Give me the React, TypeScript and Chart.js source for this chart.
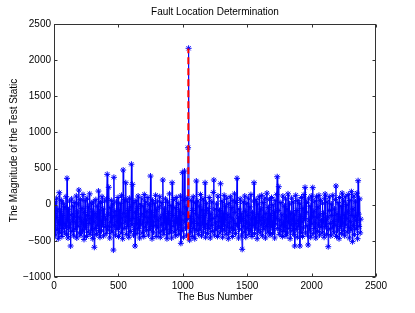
import React, { useEffect, useRef } from 'react';
import { Chart, registerables } from 'chart.js';

Chart.register(...registerables);

const TITLE = 'Fault Location Determination';
const X_LABEL = 'The Bus Number';
const Y_LABEL = 'The Magnitude of the Test Static';

// bus numbers sampled every BUS_STEP buses, starting at FIRST_BUS
const FIRST_BUS = 1;
const BUS_STEP = 4;

const testStatic = [
  -120, -310, 40, -420, -180, 90, -350, -60, -470, -240, 166, -390, -90, -280, 60, -440, -150, -330, 20, -260,
  -380, -30, -290, 110, -410, 365, -200, -460, -70, -320, 50, -250, -571, -140, 80, -370, -210, -20, -430, -160,
  30, -340, -250, 120, -460, -100, -300, 10, 203, -390, -180, 70, -420, -230, -50, -360, 140, -270, -480, -110,
  60, -310, -200, -440, 90, -150, -380, -30, -260, 150, -410, -190, 20, -350, -90, -470, 40, -240, -589, -120,
  -330, 70, -410, -170, -20, -290, 189, -380, -100, -450, 30, -220, -360, 110, -270, -60, -430, -160, 50, -310,
  -200, -400, 80, 420, -350, -130, 241, -300, -460, -40, -250, 60, -380, -180, 10, -627, 379, -290, -90, -420,
  -150, 40, -340, -230, 100, -440, -70, -310, 20, -260, -390, 130, -180, -470, 480, -120, -330, 70, -240, 304,
  -410, -160, 50, -300, -80, -450, 90, -220, -370, -30, 560, -280, 282, -190, -420, 30, -340, -571, -110, 60,
  -260, -400, -50, 120, -330, -200, -460, 10, -280, -140, 80, -390, -240, -20, -440, 140, -170, -310, 40, -360,
  -90, -250, 100, -420, -180, 0, -350, 397, -300, -110, -470, 60, -230, -380, 20, -160, -290, 130, -440, -70,
  -320, 50, -210, -390, -30, 110, -450, -170, -280, 30, -360, 342, -130, -410, -60, -250, 80, -340, -190, -470,
  40, -270, -120, -400, 150, -220, -350, -10, -460, 304, -150, -300, 70, -380, -230, -40, -430, 100, -260, -180,
  -340, 20, -410, -90, -280, 120, -534, -200, -360, 443, -130, -450, 60, 466, -240, -320, -30, -420, 90, -190,
  788, 2164, -300, -490, -160, -380, 60, -250, -440, -80, 110, -330, -210, -470, 30, -140, 328, -360, -260, 50,
  -410, -180, -20, -350, 140, -290, -430, -70, -240, 80, -380, -150, -310, 304, -450, -100, 20, -270, -400, -50,
  -330, 100, -220, -460, -130, -290, 40, -370, -190, 170, 342, -420, -60, -250, -350, 10, -160, -440, 120, -300,
  -230, -80, -390, 290, -170, -330, 50, -450, -120, -270, 130, -360, -200, -20, -410, 90, -310, -140, -470, 20,
  -250, -380, 110, -180, -320, -40, -440, 60, -210, -350, 150, -110, -400, -260, 30, 365, -290, -170, -460, -60,
  -340, 80, -230, -120, -420, -617, -190, 40, -300, -380, 120, -90, -450, -240, 20, -330, -150, 90, -410, -270,
  -30, -360, 140, -200, -440, -110, -290, 50, 304, -400, -170, -320, 70, -250, -470, 10, -130, -350, 110, -220,
  -390, -60, -280, 130, -430, -180, 30, -340, -240, 90, -460, -120, -300, 160, -200, -380, -40, -270, 70, -420,
  -150, -310, 100, -230, -400, 0, -350, -100, -460, 60, -270, -190, 140, 387, -330, -80, 249, -410, -210, -360,
  30, -290, -140, -440, 120, -250, -370, -20, -310, 80, -430, -170, -60, -390, 150, -230, -330, 10, -470, -120,
  -280, 90, -360, -200, 40, -410, -130, -571, -260, 130, -340, -80, -450, 60, -220, -300, 20, -571, -160, -390,
  100, -240, -440, -50, -320, 140, -190, 240, -380, -110, 30, -290, -420, -557, 80, -210, -350, -20, -450, 120,
  -270, -160, 236, -400, -90, -330, 50, -240, -460, 110, -180, -370, -30, -280, 130, -420, -140, 60, -310, -220,
  -390, 20, -250, -120, -450, 90, 148, -300, -200, -410, 40, -170, -581, -340, 110, -80, -260, -430, 10, -150,
  -320, 130, -230, -390, -60, -290, 70, 259, -440, -130, -350, 30, -210, -470, 100, -170, -300, -20, -400, 160,
  -250, -360, 50, -140, -430, 110, -280, -190, 0, -380, -100, 140, -320, -460, 60, -230, -350, 180, -150, -511,
  -60, -290, 120, -410, -170, 40, -340, -220, 160, -470, 332, -130, -300, 80, -390, -200,
];

// fault location marker (red dashed line)
const faultBus = 1043;
const faultLineY = [-490, 2160];

const xTickValues = [0, 500, 1000, 1500, 2000, 2500];
const xTickLabels = ['0', '500', '1000', '1500', '2000', '2500'];
const yTickValues = [-1000, -500, 0, 500, 1000, 1500, 2000, 2500];
const yTickLabels = ['\u22121000', '\u2212500', '0', '500', '1000', '1500', '2000', '2500'];

const FONT = '"Liberation Sans", Arial, Helvetica, sans-serif';

const boxPlugin = {
  id: 'matlabBox',
  afterDraw(chart: any) {
    const { ctx, chartArea } = chart;
    const xs = chart.scales.x;
    const ys = chart.scales.y;
    const l = Math.round(chartArea.left) + 0.5;
    const r = Math.round(chartArea.right) - 0.5;
    const t = Math.round(chartArea.top) + 0.5;
    const b = Math.round(chartArea.bottom) - 0.5;
    ctx.save();
    ctx.strokeStyle = '#333';
    ctx.lineWidth = 1;
    ctx.strokeRect(l, t, r - l, b - t);
    const tl = 3;
    ctx.beginPath();
    xTickValues.forEach((v) => {
      const px = Math.round(xs.getPixelForValue(v)) + 0.5;
      ctx.moveTo(px, b);
      ctx.lineTo(px, b - tl);
      ctx.moveTo(px, t);
      ctx.lineTo(px, t + tl);
    });
    yTickValues.forEach((v) => {
      const py = Math.round(ys.getPixelForValue(v)) + 0.5;
      ctx.moveTo(l, py);
      ctx.lineTo(l + tl, py);
      ctx.moveTo(r, py);
      ctx.lineTo(r - tl, py);
    });
    ctx.stroke();
    // title centred over the plot area
    ctx.fillStyle = '#000';
    ctx.font = '10px ' + FONT;
    ctx.textAlign = 'center';
    ctx.textBaseline = 'middle';
    ctx.fillText(TITLE, (chartArea.left + chartArea.right) / 2, 12);
    ctx.restore();
  },
};

export default function App() {
  const canvasRef = useRef<HTMLCanvasElement | null>(null);

  useEffect(() => {
    const canvas = canvasRef.current;
    if (!canvas) return;
    const points = testStatic.map((v, i) => ({ x: FIRST_BUS + i * BUS_STEP, y: v }));
    const faultPoints = faultLineY.map((v) => ({ x: faultBus, y: v }));

    const chart = new Chart(canvas, {
      type: 'line',
      data: {
        datasets: [
          {
            label: 'fault',
            data: faultPoints,
            borderColor: 'rgb(255,0,0)',
            borderWidth: 2,
            borderDash: [7, 4],
            pointRadius: 0,
            fill: false,
          },
          {
            label: 'test static',
            data: points,
            borderColor: 'rgb(0,0,255)',
            borderWidth: 1,
            pointStyle: 'star',
            pointRadius: 3,
            pointBorderWidth: 1,
            pointBorderColor: 'rgb(0,0,255)',
            pointBackgroundColor: 'rgba(0,0,0,0)',
            fill: false,
            tension: 0,
          },
        ],
      },
      options: {
        responsive: false,
        animation: false,
        layout: { padding: { left: 0, right: 39, top: 24, bottom: 0 } },
        plugins: {
          legend: { display: false },
          tooltip: { enabled: false },
          title: { display: false },
        },
        scales: {
          x: {
            type: 'linear',
            min: 0,
            max: 2500,
            grid: { display: false, drawTicks: false },
            border: { display: false },
            afterBuildTicks: (scale: any) => {
              scale.ticks = xTickValues.map((v) => ({ value: v }));
            },
            afterFit: (scale: any) => {
              scale.height = 36;
            },
            ticks: {
              padding: 3,
              maxRotation: 0,
              color: '#000',
              font: { family: FONT, size: 10 },
              callback: (v: any) => {
                const i = xTickValues.indexOf(Number(v));
                return i >= 0 ? xTickLabels[i] : '';
              },
            },
            title: {
              display: true,
              text: X_LABEL,
              color: '#000',
              font: { family: FONT, size: 10 },
              padding: { top: 0, bottom: 10 },
            },
          },
          y: {
            type: 'linear',
            min: -1000,
            max: 2500,
            grid: { display: false, drawTicks: false },
            border: { display: false },
            afterBuildTicks: (scale: any) => {
              scale.ticks = yTickValues.map((v) => ({ value: v }));
            },
            afterFit: (scale: any) => {
              scale.width = 54;
            },
            ticks: {
              padding: 3,
              color: '#000',
              font: { family: FONT, size: 10 },
              callback: (v: any) => {
                const i = yTickValues.indexOf(Number(v));
                return i >= 0 ? yTickLabels[i] : '';
              },
            },
            title: {
              display: true,
              text: Y_LABEL,
              color: '#000',
              font: { family: FONT, size: 10 },
              padding: { top: 8, bottom: 0 },
            },
          },
        },
      } as any,
      plugins: [boxPlugin],
    });
    return () => chart.destroy();
  }, []);

  return (
    <div style={{ position: 'fixed', left: 0, top: 0, width: 415, height: 313, background: '#fff' }}>
      <canvas ref={canvasRef} width={415} height={313} style={{ display: 'block' }} />
    </div>
  );
}
